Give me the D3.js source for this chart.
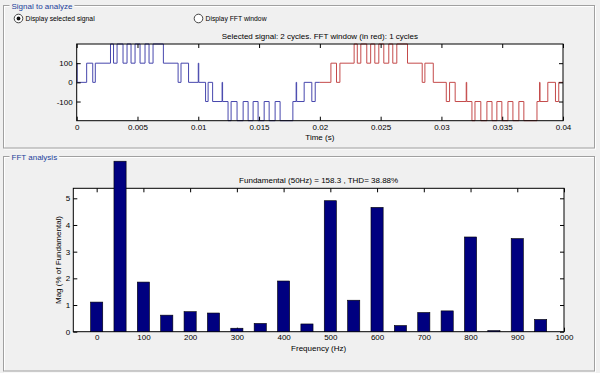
<!DOCTYPE html>
<html>
<head>
<meta charset="utf-8">
<script src="https://cdn.jsdelivr.net/npm/d3@7"></script>
<style>
body { margin: 0; background: #f0f0f0; }
svg { display: block; }
text { font-family: "Liberation Sans", Arial, sans-serif; fill: #000; }
</style>
</head>
<body>
<script>
// selected signal: switching instants (ms) and the level held after each one
var blueTimes = [0, 0.04, 0.82, 1.32, 1.53, 2.78, 3.03, 3.32, 3.81, 4.14, 4.47, 4.80, 5.21, 5.62, 5.95, 6.28, 7.13, 8.34, 8.58, 9.20,
                 10.00, 10.04, 10.60, 10.81, 11.18, 11.96, 12.00, 12.45, 12.70, 13.19, 13.69, 14.10, 14.51, 14.92, 15.42, 15.83, 16.32, 16.73, 17.78, 18.05, 18.09, 18.71, 19.34, 19.62];
var blueLevels = [100, 0, 100, 0, 100, 200, 100, 200, 100, 200, 100, 200, 100, 200, 100, 200, 100, 0, 100, 0,
                  100, 0, -100, 0, -100, 0, -100, -200, -100, -200, -100, -200, -100, -200, -100, -200, -100, -200, -100, 0, -100, 0, -100, 0];
var redTimes = [20.00, 20.91, 21.37, 21.65, 22.82, 23.08, 23.37, 23.86, 24.18, 24.52, 24.85, 25.26, 25.67, 26.00, 26.33, 27.21, 28.42, 28.64, 29.33,
                30.40, 30.67, 31.13, 32.04, 32.08, 32.51, 32.76, 33.24, 33.74, 34.16, 34.56, 34.97, 35.47, 35.88, 36.37, 36.78, 37.86, 38.07, 38.11, 38.75, 39.38, 39.65];
var redLevels = [0, 100, 0, 100, 200, 100, 200, 100, 200, 100, 200, 100, 200, 100, 200, 100, 0, 100, 0,
                 -100, 0, -100, 0, -100, -200, -100, -200, -100, -200, -100, -200, -100, -200, -100, -200, -100, 0, -100, 0, -100, 0];
var timeTicks = [0, 5, 10, 15, 20, 25, 30, 35, 40];
var levelTicks = [-100, 0, 100];

// FFT of the red window
var freqs = [0, 50, 100, 150, 200, 250, 300, 350, 400, 450, 500, 550, 600, 650, 700, 750, 800, 850, 900, 950];
var mags = [1.11, 6.39, 1.86, 0.62, 0.75, 0.70, 0.13, 0.31, 1.90, 0.29, 4.91, 1.18, 4.66, 0.23, 0.72, 0.78, 3.55, 0.04, 3.49, 0.46];
var freqTicks = [0, 100, 200, 300, 400, 500, 600, 700, 800, 900, 1000];
var magTicks = [0, 1, 2, 3, 4, 5];

var width = 600, height = 373;
var svg = d3.select("body").append("svg")
    .attr("width", width)
    .attr("height", height);

svg.append("rect").attr("width", width).attr("height", height).attr("fill", "#f0f0f0");

function groupBox(x, y, w, h, title) {
    var g = svg.append("g");
    g.append("rect").attr("x", x + 1).attr("y", y + 1).attr("width", w).attr("height", h)
        .attr("fill", "none").attr("stroke", "#fff");
    g.append("rect").attr("x", x).attr("y", y).attr("width", w).attr("height", h)
        .attr("fill", "none").attr("stroke", "#a0a0a0");
    var t = g.append("text").attr("x", x + 8).attr("y", y + 3)
        .style("font-size", "8px").style("fill", "#22409a")
        .text(title);
    var bw = t.node().getComputedTextLength();
    g.insert("rect", "text").attr("x", x + 6).attr("y", y - 4).attr("width", bw + 4).attr("height", 8)
        .attr("fill", "#f0f0f0");
}

groupBox(3.5, 5.5, 591, 142.5, "Signal to analyze");
groupBox(3.5, 156.5, 591, 214.5, "FFT analysis");

// radio buttons
function radio(cx, label, on) {
    svg.append("circle").attr("cx", cx).attr("cy", 18.5).attr("r", 4.3)
        .attr("fill", "#fff").attr("stroke", "#444");
    if (on) svg.append("circle").attr("cx", cx).attr("cy", 18.5).attr("r", 1.9).attr("fill", "#111");
    svg.append("text").attr("x", cx + 7).attr("y", 21).style("font-size", "6.8px").text(label);
}
radio(18.5, "Display selected signal", true);
radio(198.5, "Display FFT window", false);

// ---------- signal plot ----------
var x1 = d3.scaleLinear().domain([0, 40]).range([76.7, 563]);
var y1 = d3.scaleLinear().domain([-200, 200]).range([120.7, 44]);

svg.append("rect").attr("x", x1(0)).attr("y", y1(200))
    .attr("width", x1(40) - x1(0)).attr("height", y1(-200) - y1(200))
    .attr("fill", "#fff");

function stepLine(times, levels, end) {
    var pts = times.map(function(t, i) { return [t, levels[i]]; });
    pts.push([end, levels[levels.length - 1]]);
    return d3.line().curve(d3.curveStepAfter)
        .x(function(d) { return x1(d[0]); })
        .y(function(d) { return y1(d[1]); })(pts);
}

svg.append("path").attr("d", stepLine(blueTimes, blueLevels, 20))
    .attr("fill", "none").attr("stroke", "#4747ad").attr("stroke-width", 1);
svg.append("path").attr("d", stepLine(redTimes, redLevels, 40))
    .attr("fill", "none").attr("stroke", "#c44a4a").attr("stroke-width", 1);

function styleAxis(g) {
    g.select(".domain").remove();
    g.selectAll("line").attr("stroke", "#000");
    g.selectAll("text").style("font-size", "8px").style("font-family", "\"Liberation Sans\", Arial, sans-serif");
}

var plain = function(d) { return String(d); };
var fmtT = function(d) { return String(d / 1000); };
svg.append("g").attr("transform", "translate(0," + y1(-200) + ")")
    .call(d3.axisBottom(x1).tickValues(timeTicks).tickFormat(fmtT).tickSize(-4).tickPadding(4))
    .call(styleAxis);
svg.append("g").attr("transform", "translate(0," + y1(200) + ")")
    .call(d3.axisTop(x1).tickValues(timeTicks).tickFormat("").tickSize(-4))
    .call(styleAxis);
svg.append("g").attr("transform", "translate(" + x1(0) + ",0)")
    .call(d3.axisLeft(y1).tickValues(levelTicks).tickFormat(plain).tickSize(-4).tickPadding(4))
    .call(styleAxis);
svg.append("g").attr("transform", "translate(" + x1(40) + ",0)")
    .call(d3.axisRight(y1).tickValues(levelTicks).tickFormat("").tickSize(-4))
    .call(styleAxis);

svg.append("rect").attr("x", x1(0)).attr("y", y1(200))
    .attr("width", x1(40) - x1(0)).attr("height", y1(-200) - y1(200))
    .attr("fill", "none").attr("stroke", "#000");

svg.append("text").attr("x", (x1(0) + x1(40)) / 2).attr("y", 39)
    .attr("text-anchor", "middle").style("font-size", "8px")
    .text("Selected signal: 2 cycles. FFT window (in red): 1 cycles");
svg.append("text").attr("x", (x1(0) + x1(40)) / 2).attr("y", 139.5)
    .attr("text-anchor", "middle").style("font-size", "8px")
    .text("Time (s)");

// ---------- FFT plot ----------
var x2 = d3.scaleLinear().domain([-50, 1000]).range([73.3, 564]);
var y2 = d3.scaleLinear().domain([0, 5.375]).range([331.7, 188.3]);
var half = 13;

svg.append("rect").attr("x", x2(-50)).attr("y", y2(5.375))
    .attr("width", x2(1000) - x2(-50)).attr("height", y2(0) - y2(5.375))
    .attr("fill", "#fff");

svg.append("g").attr("transform", "translate(0," + y2(0) + ")")
    .call(d3.axisBottom(x2).tickValues(freqTicks).tickFormat(plain).tickSize(-4).tickPadding(3))
    .call(styleAxis);
svg.append("g").attr("transform", "translate(0," + y2(5.375) + ")")
    .call(d3.axisTop(x2).tickValues(freqTicks).tickFormat("").tickSize(-4))
    .call(styleAxis);
svg.append("g").attr("transform", "translate(" + x2(-50) + ",0)")
    .call(d3.axisLeft(y2).tickValues(magTicks).tickFormat(plain).tickSize(-4).tickPadding(3))
    .call(styleAxis);
svg.append("g").attr("transform", "translate(" + x2(1000) + ",0)")
    .call(d3.axisRight(y2).tickValues(magTicks).tickFormat("").tickSize(-4))
    .call(styleAxis);

svg.append("rect").attr("x", x2(-50)).attr("y", y2(5.375))
    .attr("width", x2(1000) - x2(-50)).attr("height", y2(0) - y2(5.375))
    .attr("fill", "none").attr("stroke", "#000");

svg.selectAll("rect.bar")
    .data(freqs)
    .enter()
    .append("rect")
    .attr("class", "bar")
    .attr("x", function(d) { return x2(d - half); })
    .attr("y", function(d, i) { return y2(mags[i]); })
    .attr("width", x2(half) - x2(-half))
    .attr("height", function(d, i) { return y2(0) - y2(mags[i]); })
    .attr("fill", "#000080")
    .attr("stroke", "#000")
    .attr("stroke-width", 0.6);

svg.append("text").attr("x", (x2(-50) + x2(1000)) / 2).attr("y", 183)
    .attr("text-anchor", "middle").style("font-size", "8px")
    .text("Fundamental (50Hz) = 158.3 , THD= 38.88%");
svg.append("text").attr("x", (x2(-50) + x2(1000)) / 2).attr("y", 351)
    .attr("text-anchor", "middle").style("font-size", "8px")
    .text("Frequency (Hz)");
svg.append("text")
    .attr("transform", "translate(60.5," + (y2(0) + y2(5.375)) / 2 + ") rotate(-90)")
    .attr("text-anchor", "middle").style("font-size", "8px")
    .text("Mag (% of Fundamental)");
</script>
</body>
</html>
